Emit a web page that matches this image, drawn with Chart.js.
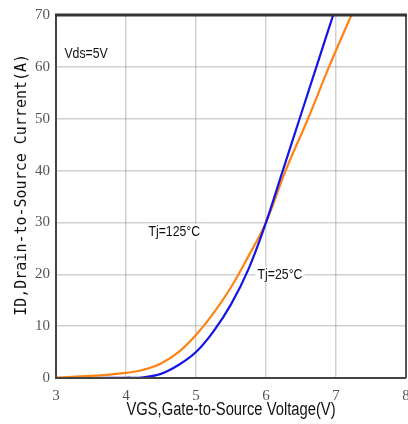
<!DOCTYPE html>
<html>
<head>
<meta charset="utf-8">
<script src="https://cdn.jsdelivr.net/npm/chart.js@4"></script>
<style>
html,body{margin:0;padding:0;background:#fff;}
canvas{display:block;}
</style>
</head>
<body>
<canvas id="c" width="408" height="424"></canvas>
<script>
const vgs25 = [3, 3.5, 4, 4.25, 4.5, 4.75, 5, 5.25, 5.5, 5.75, 6, 6.24, 6.48, 6.72, 6.96];
const id25  = [0, 0, 0.05, 0.15, 0.8, 2.5, 5, 9.0, 14.2, 21.0, 30, 40, 50, 60, 70];
const vgs125 = [3, 3.5, 4, 4.25, 4.5, 4.75, 5, 5.25, 5.5, 5.75, 6, 6.28, 6.6, 6.9, 7.22];
const id125  = [0.1, 0.4, 1.0, 1.6, 2.8, 5.0, 8.3, 12.5, 17.5, 23.5, 30, 40, 50, 60, 70];
const xTicks = [3, 4, 5, 6, 7, 8];
const yTicks = [0, 10, 20, 30, 40, 50, 60, 70];
const xTitle = 'VGS,Gate-to-Source Voltage(V)';
const yTitle = 'ID,Drain-to-Source Current(A)';
const labels = [
  {text: 'Vds=5V', x: 3.43, y: 62.5},
  {text: 'Tj=125°C', x: 4.69, y: 28.2},
  {text: 'Tj=25°C', x: 6.2, y: 19.9}
];

const NARROW = 0.82;

function narrowText(ctx, text, x, y, font, color, bg) {
  ctx.save();
  ctx.font = font;
  ctx.textAlign = 'center';
  ctx.textBaseline = 'middle';
  const w = ctx.measureText(text).width * NARROW;
  if (bg) {
    ctx.fillStyle = bg;
    ctx.fillRect(x - w / 2 - 2, y - 8, w + 4, 16);
  }
  ctx.translate(x, y);
  ctx.scale(NARROW, 1);
  ctx.fillStyle = color;
  ctx.fillText(text, 0, 0);
  ctx.restore();
}

const overlay = {
  id: 'overlay',
  afterDatasetsDraw(chart) {
    const {ctx, chartArea: a, scales} = chart;
    ctx.save();
    ctx.strokeStyle = '#444';
    ctx.lineWidth = 2;
    ctx.beginPath();
    ctx.moveTo(a.left, a.top); ctx.lineTo(a.left, a.bottom); ctx.lineTo(a.right, a.bottom);
    ctx.stroke();
    ctx.strokeStyle = '#555';
    ctx.beginPath();
    ctx.moveTo(a.right, a.top); ctx.lineTo(a.right, a.bottom);
    ctx.stroke();
    ctx.strokeStyle = '#333';
    ctx.lineWidth = 3;
    ctx.beginPath();
    ctx.moveTo(a.left - 1, a.top); ctx.lineTo(a.right + 1, a.top);
    ctx.stroke();
    ctx.restore();

    labels.forEach(l => {
      narrowText(ctx, l.text, scales.x.getPixelForValue(l.x), scales.y.getPixelForValue(l.y),
        "15px 'Liberation Sans', sans-serif", '#111', '#fff');
    });
    narrowText(ctx, xTitle, (a.left + a.right) / 2, a.bottom + 32,
      "18px 'Liberation Sans', sans-serif", '#111', null);

    ctx.save();
    ctx.translate(22, a.top + (a.bottom - a.top) * 0.468);
    ctx.rotate(-Math.PI / 2);
    ctx.font = "15px 'DejaVu Sans Mono', monospace";
    ctx.textAlign = 'center';
    ctx.textBaseline = 'middle';
    ctx.fillStyle = '#111';
    ctx.fillText(yTitle, 0, 0);
    ctx.restore();
  }
};

new Chart(document.getElementById('c'), {
  type: 'scatter',
  data: {
    datasets: [
      {
        label: 'Tj=25°C',
        data: vgs25.map((v, i) => ({x: v, y: id25[i]})),
        showLine: true, borderColor: '#1414e6', borderWidth: 2.2,
        pointRadius: 0, tension: 0.4, fill: false
      },
      {
        label: 'Tj=125°C',
        data: vgs125.map((v, i) => ({x: v, y: id125[i]})),
        showLine: true, borderColor: '#ff8214', borderWidth: 2.2,
        pointRadius: 0, tension: 0.4, fill: false
      }
    ]
  },
  options: {
    responsive: false,
    animation: false,
    layout: {padding: {top: 15, right: 2, left: 0, bottom: 0}},
    plugins: {legend: {display: false}, tooltip: {enabled: false}},
    scales: {
      x: {
        type: 'linear', min: 3, max: 8,
        afterBuildTicks(s) { s.ticks = xTicks.map(v => ({value: v})); },
        afterFit(s) { s.height = 46; s.paddingRight = 0; s.paddingLeft = 0; },
        grid: {color: 'rgba(150,150,150,0.45)', lineWidth: 1.5, drawTicks: false},
        border: {display: false},
        ticks: {color: '#555', padding: 9, font: {family: "'Liberation Serif', serif", size: 15}, maxRotation: 0},
        title: {display: false}
      },
      y: {
        type: 'linear', min: 0, max: 70,
        afterBuildTicks(s) { s.ticks = yTicks.map(v => ({value: v})); },
        afterFit(s) { s.width = 56; s.paddingTop = 0; s.paddingBottom = 0; },
        grid: {color: 'rgba(150,150,150,0.45)', lineWidth: 1.5, drawTicks: false},
        border: {display: false},
        ticks: {color: '#555', padding: 6, font: {family: "'Liberation Serif', serif", size: 15}},
        title: {display: false}
      }
    }
  },
  plugins: [overlay]
});
</script>
</body>
</html>
